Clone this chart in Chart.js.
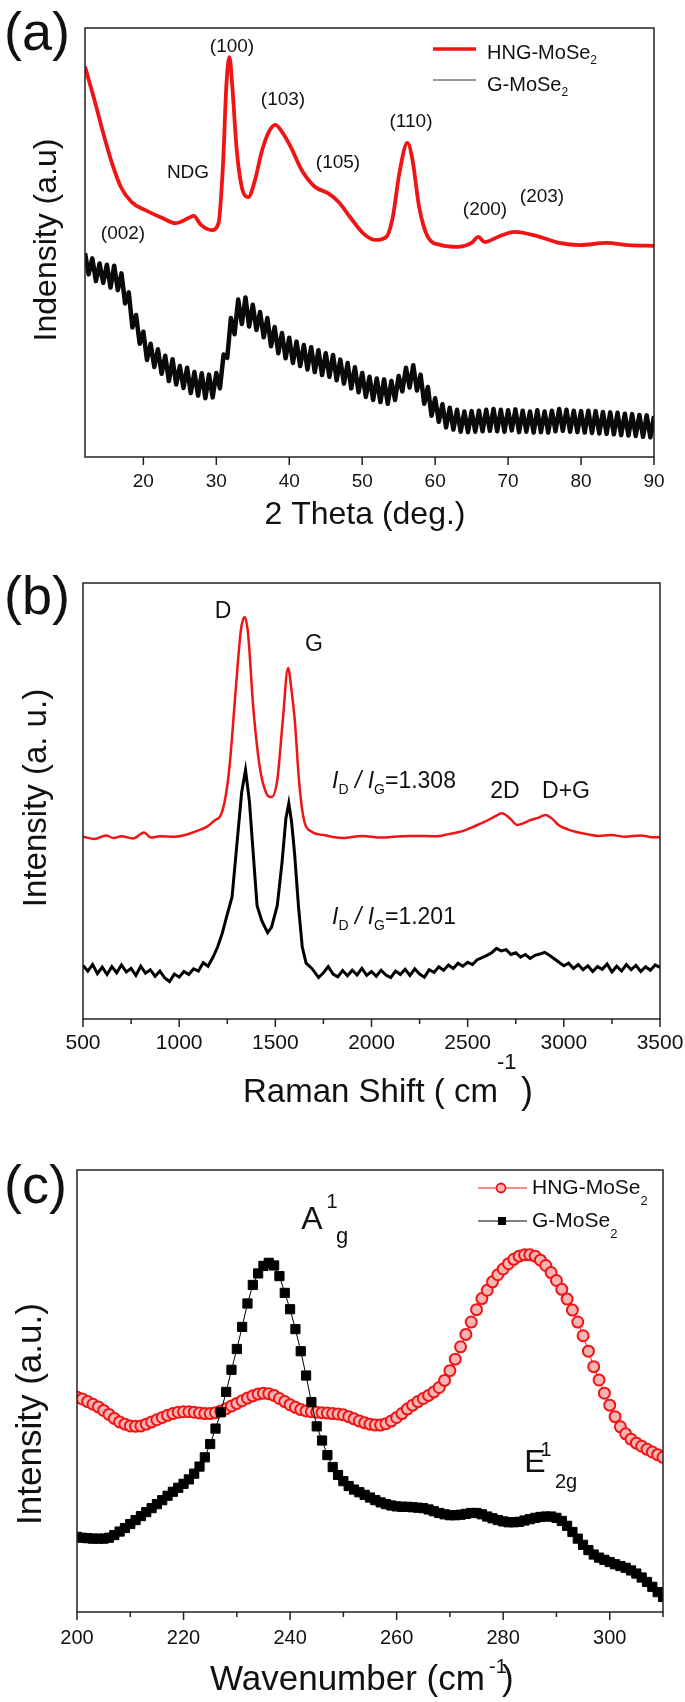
<!DOCTYPE html>
<html>
<head>
<meta charset="utf-8">
<script src="https://cdn.jsdelivr.net/npm/chart.js@4.4.0/dist/chart.umd.min.js"></script>
<style>
  body { margin: 0; background: #fff; }
  #wrap { position: relative; width: 685px; height: 1702px; }
  canvas { position: absolute; left: 0; }
</style>
</head>
<body>
<div id="wrap">
  <canvas id="chartA" width="685" height="560" style="top:0px"></canvas>
  <canvas id="chartB" width="685" height="570" style="top:560px"></canvas>
  <canvas id="chartC" width="685" height="572" style="top:1130px"></canvas>
</div>
<script>
const FONT = "'Liberation Sans', Arial, sans-serif";
const RED = "#f01414";
const INK = "#111";
const AXIS = "#222";

// (a) XRD, 2 theta
const xrdTicks = [20, 30, 40, 50, 60, 70, 80, 90];
const xrdHngX = [12, 13.3, 14.5, 15.7, 16.9, 18.4, 20.2, 22.6, 24.4, 26.2, 26.9, 27.9, 29.4, 30.3, 30.9, 31.4, 31.8, 32.2, 32.8, 33.6,
  34.4, 35.2, 36.3, 37.2, 38.1, 39.0, 40.2, 41.7, 43.5, 45.3, 46.8, 48.3, 50.1, 51.8, 53.3, 54.2, 55.1, 56.2, 56.9, 57.8,
  59.0, 60.8, 63.2, 65.0, 65.9, 66.8, 68.6, 70.9, 74.0, 77.0, 79.9, 83.5, 86.5, 90];
const xrdHngY = [91, 83.2, 75.5, 68.5, 63, 59.4, 57.6, 55.7, 54.5, 55.7, 56.2, 54.1, 52.9, 54.5, 67.6, 87.2, 93.2, 86.2, 71.6, 62.2,
  60.6, 63.9, 71.6, 75.8, 77.4, 75.8, 72.3, 66.9, 63, 61.5, 59.4, 56, 52.2, 50.6, 51.3, 56, 66.2, 73.2, 69.2, 58.3,
  51.3, 49.4, 49, 49.9, 51.3, 50.1, 51.3, 52.5, 51.5, 49.9, 49.4, 49.9, 49.4, 49.2];
// G-MoSe2 noisy trace, read every 0.5 deg from 12 to 90
const xrdGStart = 12, xrdGStep = 0.5;
const xrdGY = [
  47.5, 42.6, 46.3, 41.0, 45.1, 40.6, 44.8, 39.5, 44.6, 38.9,
  42.8, 35.8, 38.4, 30.2, 33.1, 26.4, 29.2, 22.6, 26.4, 21.0,
  25.1, 19.4, 23.6, 17.7, 22.8, 16.9, 21.2, 16.1, 20.8, 14.9,
  19.8, 14.3, 19.5, 13.7, 19.2, 13.9, 19.6, 16.0, 23.9, 23.1,
  32.4, 28.6, 36.7, 31.0, 37.2, 30.4, 35.5, 29.6, 33.8, 27.9,
  32.4, 25.8, 30.3, 24.2, 28.9, 23.0, 27.8, 21.9, 26.9, 21.2,
  26.1, 20.4, 25.6, 19.8, 24.9, 19.1, 24.2, 18.7, 23.8, 17.9,
  22.7, 17.1, 21.9, 16.0, 20.9, 15.1, 19.6, 14.0, 18.7, 13.3,
  18.3, 12.8, 18.1, 12.4, 17.7, 13.3, 18.9, 15.3, 20.8, 16.2,
  21.4, 15.5, 19.2, 12.4, 16.3, 9.6, 13.7, 8.2, 12.3, 6.9,
  11.5, 6.4, 11.0, 5.9, 10.6, 5.8, 10.7, 5.9, 10.8, 6.0,
  11.0, 6.1, 11.2, 6.0, 11.0, 5.9, 10.9, 6.2, 11.1, 5.8,
  10.8, 5.9, 10.6, 5.7, 10.9, 5.8, 10.6, 5.7, 10.8, 6.0,
  11.2, 6.1, 11.0, 5.9, 10.8, 5.8, 10.7, 5.7, 10.8, 5.6,
  10.7, 5.5, 10.5, 5.4, 10.4, 5.3, 10.3, 5.1, 10.1, 5.0,
  10.0, 4.9, 9.8, 4.7, 9.7, 4.6, 9.5];

// (b) Raman shift
const ramanTicks = [500, 1000, 1500, 2000, 2500, 3000, 3500];
const ramanMinor = [750, 1250, 1750, 2250, 2750, 3250];
const ramanHngX = [500, 525, 550, 575, 600, 625, 650, 675, 700, 725, 750, 775, 800, 825, 850, 875, 900, 925, 950, 975,
  1000, 1025, 1050, 1075, 1100, 1125, 1150, 1175, 1200, 1225, 1250, 1275, 1300, 1325,
  1345, 1365, 1385, 1405, 1430, 1460, 1480, 1510, 1535, 1555, 1570, 1585, 1600, 1620, 1640, 1660, 1690, 1725,
  1750, 1775, 1800, 1825, 1850, 1875, 1900, 1925, 1950, 1975, 2000, 2025, 2050, 2075, 2100, 2125, 2150, 2175,
  2200, 2225, 2250, 2275, 2300, 2325, 2350, 2375, 2400, 2425, 2450, 2475, 2500, 2525, 2550, 2575, 2600, 2625,
  2650, 2675, 2700, 2725, 2750, 2775, 2800, 2825, 2850, 2875, 2900, 2925, 2950, 2975, 3000, 3025, 3050, 3075,
  3100, 3125, 3150, 3175, 3200, 3225, 3250, 3275, 3300, 3325, 3350, 3375, 3400, 3425, 3450, 3475, 3500];
const ramanHngY = [12.3, 11.0, 12.5, 10.4, 11.9, 10.2, 12.0, 10.6, 12.4, 10.8, 11.6, 10.0, 12.1, 10.5, 11.3, 9.8, 11.0, 9.4, 8.6, 10.3,
  9.6, 10.9, 10.2, 11.5, 11.0, 12.9, 12.1, 14.1, 16.5, 19.8, 24, 28, 40, 52,
  57.1, 50, 38, 26, 22.5, 19.8, 21, 26, 36, 46, 49.5, 45, 38, 26, 16.5, 12.8, 11.6, 9.5,
  10.6, 12.0, 10.3, 9.7, 11.1, 9.9, 11.2, 10.1, 11.6, 10.0, 10.9, 9.8, 11.2, 10.1, 9.5, 11.0, 10.2, 11.4,
  10.0, 11.5, 10.3, 9.6, 11.3, 10.7, 12.0, 11.2, 12.4, 11.6, 12.8, 12.1, 13.0, 12.5, 13.6, 14.1, 14.6, 15.2,
  16.2, 15.6, 15.9, 14.8, 15.2, 14.2, 14.8, 13.9, 14.6, 14.9, 15.3, 14.6, 13.8, 13.0, 12.2, 12.8, 11.6, 12.5,
  11.3, 12.2, 10.9, 12.0, 11.4, 12.6, 10.8, 12.1, 11.0, 12.5, 11.3, 12.3, 10.9, 12.0, 11.2, 12.4, 11.8];
const ramanGX = [500, 560, 620, 659, 700, 760, 818, 852, 900, 977, 1040, 1090, 1140, 1180, 1226, 1260, 1294, 1321, 1340, 1358,
  1385, 1419, 1453, 1480, 1510, 1539, 1566, 1584, 1601, 1623, 1646, 1691, 1750, 1793, 1850, 1950, 2050, 2110, 2200, 2338,
  2400, 2473, 2530, 2587, 2640, 2678, 2720, 2757, 2790, 2826, 2870, 2904, 2940, 2972, 3020, 3065, 3120, 3180, 3246, 3320,
  3400, 3460, 3500];
const ramanGY = [41.8, 41.3, 42.1, 41.5, 41.9, 41.4, 42.8, 41.6, 41.9, 41.8, 42.3, 43.1, 44.0, 45.4, 47.9, 57.1, 75.5, 89.2, 92.2, 88.5,
  71.6, 57.8, 51.8, 50.9, 54.8, 68.6, 80.5, 75.5, 68.6, 54.8, 46.3, 42.9, 42.2, 41.8, 41.5, 42.0, 41.6, 41.8, 42.0, 41.9,
  42.4, 43.1, 44.1, 45.2, 46.4, 47.2, 46.0, 44.5, 44.9, 45.6, 46.2, 46.8, 45.9, 44.5, 43.5, 42.9, 42.4, 42.0, 42.2, 41.8,
  42.1, 41.7, 41.7];

// (c) low-wavenumber Raman, one reading per cm-1 from 200 to 310
const wnStart = 200, wnStep = 1;
const wnTicks = [200, 220, 240, 260, 280, 300];
const wnMinor = [210, 230, 250, 270, 290, 310];
const wnHngY = [48.6, 48.2, 47.6, 47.0, 46.4, 45.6, 44.7, 43.8, 43.0, 42.5,
  42.1, 42.0, 42.1, 42.5, 43.0, 43.5, 44.0, 44.5, 44.9, 45.2,
  45.3, 45.3, 45.2, 45.0, 44.9, 44.9, 45.1, 45.5, 46.0, 46.6,
  47.2, 47.8, 48.4, 48.9, 49.3, 49.5, 49.4, 49.0, 48.3, 47.6,
  46.9, 46.3, 45.8, 45.5, 45.3, 45.2, 45.1, 45.0, 44.9, 44.8,
  44.6, 44.2, 43.7, 43.2, 42.8, 42.5, 42.3, 42.3, 42.6, 43.2,
  44.0, 44.9, 45.9, 46.8, 47.6, 48.3, 49.0, 49.8, 50.8, 52.4,
  54.6, 57.2, 60.0, 62.8, 65.6, 68.4, 70.9, 72.8, 74.7, 76.3,
  77.6, 78.8, 79.8, 80.5, 80.8, 80.8, 80.5, 79.6, 78.4, 76.8,
  75.0, 73.0, 70.8, 68.3, 65.6, 62.5, 59.0, 55.5, 52.5, 49.5,
  46.8, 44.2, 41.9, 40.3, 39.1, 38.2, 37.5, 36.8, 36.2, 35.6, 35.0];
const wnGY = [17.0, 16.8, 16.7, 16.6, 16.6, 16.6, 16.8, 17.4, 18.2, 19.0,
  19.9, 20.8, 21.7, 22.6, 23.5, 24.4, 25.3, 26.3, 27.2, 28.1,
  29.0, 30.0, 31.3, 32.9, 35.0, 38.0, 41.5, 45.2, 49.8, 54.8,
  59.5, 64.5, 69.8, 74.0, 76.6, 78.3, 79.0, 78.4, 76.0, 72.2,
  68.5, 64.0, 59.0, 53.5, 47.5, 42.0, 38.8, 35.5, 32.8, 31.0,
  29.6, 28.5, 27.7, 27.1, 26.5, 25.9, 25.3, 24.8, 24.4, 24.1,
  23.9, 23.8, 23.8, 23.7, 23.6, 23.5, 23.2, 22.8, 22.4, 22.1,
  21.9, 21.9, 22.0, 22.2, 22.4, 22.4, 22.1, 21.6, 21.2, 20.8,
  20.5, 20.3, 20.3, 20.4, 20.7, 21.0, 21.3, 21.5, 21.6, 21.6,
  21.3, 20.6, 19.5, 18.1, 16.6, 15.2, 14.0, 13.0, 12.3, 11.8,
  11.3, 10.8, 10.4, 10.0, 9.4, 8.7, 7.8, 6.8, 5.7, 4.5, 3.4];

function pairs(xs, ys) {
  return ys.map((y, i) => ({ x: xs[i], y: y }));
}
function gridPairs(start, step, ys) {
  return ys.map((y, i) => ({ x: start + i * step, y: y }));
}

// --- drawing helpers ---
function txt(ctx, s, x, y, size, align, italic) {
  ctx.save();
  ctx.font = (italic ? "italic " : "") + size + "px " + FONT;
  ctx.fillStyle = INK;
  ctx.textAlign = align || "center";
  ctx.textBaseline = "middle";
  ctx.fillText(s, x, y);
  ctx.restore();
}
// parts: [text, size, dy, italic] drawn left to right
function runs(ctx, x, y, parts) {
  ctx.save();
  ctx.fillStyle = INK;
  ctx.textAlign = "left";
  ctx.textBaseline = "middle";
  parts.forEach(p => {
    ctx.font = (p[3] ? "italic " : "") + p[1] + "px " + FONT;
    ctx.fillText(p[0], x, y + (p[2] || 0));
    x += ctx.measureText(p[0]).width;
  });
  ctx.restore();
}
function yTitle(ctx, s, x, y, size) {
  ctx.save();
  ctx.translate(x, y);
  ctx.rotate(-Math.PI / 2);
  ctx.font = size + "px " + FONT;
  ctx.fillStyle = INK;
  ctx.textAlign = "center";
  ctx.textBaseline = "middle";
  ctx.fillText(s, 0, 0);
  ctx.restore();
}
function seg(ctx, x1, y1, x2, y2, color, w) {
  ctx.save();
  ctx.strokeStyle = color;
  ctx.lineWidth = w;
  ctx.beginPath();
  ctx.moveTo(x1, y1);
  ctx.lineTo(x2, y2);
  ctx.stroke();
  ctx.restore();
}
function frame(chart) {
  const a = chart.chartArea, ctx = chart.ctx;
  ctx.save();
  ctx.strokeStyle = AXIS;
  ctx.lineWidth = 1.5;
  ctx.strokeRect(a.left, a.top, a.right - a.left, a.bottom - a.top);
  ctx.restore();
}
function xTicks(chart, major, minor, labelY, size) {
  const ctx = chart.ctx, sx = chart.scales.x, b = chart.chartArea.bottom;
  major.forEach(v => {
    const p = sx.getPixelForValue(v);
    seg(ctx, p, b, p, b + 8, AXIS, 1.5);
    txt(ctx, String(v), p, labelY, size);
  });
  minor.forEach(v => {
    const p = sx.getPixelForValue(v);
    seg(ctx, p, b, p, b + 5, AXIS, 1.5);
  });
}

function makeChart(id, pad, xmin, xmax, datasets, draw) {
  return new Chart(document.getElementById(id), {
    type: "line",
    data: { datasets: datasets },
    options: {
      responsive: false,
      animation: false,
      devicePixelRatio: 1,
      events: [],
      layout: { padding: pad },
      plugins: { legend: { display: false }, tooltip: { enabled: false } },
      scales: {
        x: { type: "linear", min: xmin, max: xmax, display: false },
        y: { min: 0, max: 100, display: false }
      }
    },
    plugins: [{ id: "deco", afterDraw: draw }]
  });
}

// ===== (a) =====
makeChart("chartA", { left: 85, top: 28, right: 31, bottom: 103 }, 12, 90, [
  {
    label: "HNG-MoSe2", data: pairs(xrdHngX, xrdHngY),
    borderColor: RED, borderWidth: 3.8, pointRadius: 0, cubicInterpolationMode: "monotone"
  },
  {
    label: "G-MoSe2", data: gridPairs(xrdGStart, xrdGStep, xrdGY),
    borderColor: "#0a0a0a", borderWidth: 4.5, borderJoinStyle: "round", pointRadius: 0, tension: 0
  }
], chart => {
  const ctx = chart.ctx;
  frame(chart);
  xTicks(chart, xrdTicks, [], 482, 19);
  txt(ctx, "(a)", 4, 35, 54, "left");
  yTitle(ctx, "Indensity (a.u)", 47, 240, 32);
  txt(ctx, "2 Theta (deg.)", 365, 515, 32);
  seg(ctx, 433, 49, 476, 49, RED, 3.5);
  runs(ctx, 487, 53, [["HNG-MoSe", 20], ["2", 12, 8]]);
  seg(ctx, 433, 80, 476, 80, "#333", 1);
  runs(ctx, 487, 85, [["G-MoSe", 20], ["2", 12, 8]]);
  txt(ctx, "(100)", 232, 47, 19);
  txt(ctx, "(103)", 283, 100, 19);
  txt(ctx, "(110)", 411, 122, 19);
  txt(ctx, "(105)", 338, 163, 19);
  txt(ctx, "NDG", 188, 173, 19);
  txt(ctx, "(200)", 485, 210, 19);
  txt(ctx, "(203)", 542, 197, 19);
  txt(ctx, "(002)", 123, 234, 19);
});

// ===== (b) =====
makeChart("chartB", { left: 83, top: 23, right: 25, bottom: 111 }, 500, 3500, [
  {
    label: "HNG-MoSe2", data: pairs(ramanHngX, ramanHngY),
    borderColor: "#000", borderWidth: 3, pointRadius: 0, tension: 0
  },
  {
    label: "G-MoSe2", data: pairs(ramanGX, ramanGY),
    borderColor: RED, borderWidth: 2.5, pointRadius: 0, cubicInterpolationMode: "monotone"
  }
], chart => {
  const ctx = chart.ctx;
  frame(chart);
  xTicks(chart, ramanTicks, ramanMinor, 483, 21);
  txt(ctx, "(b)", 4, 39, 54, "left");
  yTitle(ctx, "Intensity (a. u.)", 37, 238, 33);
  txt(ctx, "Raman Shift ( cm", 243, 533, 33, "left");
  txt(ctx, "-1", 497, 503, 22, "left");
  txt(ctx, ")", 521, 533, 36, "left");
  seg(ctx, 435, 605, 482, 605, "#000", 3);
  runs(ctx, 487, 608, [["HNG-MoSe", 21], ["2", 13, 11]]);
  seg(ctx, 435, 640, 482, 640, RED, 2.5);
  runs(ctx, 487, 643, [["G-MoSe", 21], ["2", 13, 11]]);
  txt(ctx, "D", 223, 52, 23);
  txt(ctx, "G", 314, 85, 23);
  txt(ctx, "2D", 505, 232, 23);
  txt(ctx, "D+G", 566, 232, 23);
  runs(ctx, 332, 222, [["I", 23, 0, true], ["D", 14, 8], [" / ", 23, 0, true], ["I", 23, 0, true], ["G", 14, 8], ["=1.308", 23]]);
  runs(ctx, 332, 358, [["I", 23, 0, true], ["D", 14, 8], [" / ", 23, 0, true], ["I", 23, 0, true], ["G", 14, 8], ["=1.201", 23]]);
});

// ===== (c) =====
makeChart("chartC", { left: 77, top: 40, right: 22, bottom: 90 }, 200, 310, [
  {
    label: "HNG-MoSe2", data: gridPairs(wnStart, wnStep, wnHngY), order: 1,
    borderColor: RED, borderWidth: 1, pointStyle: "circle", pointRadius: 5.5,
    pointBackgroundColor: "#f9b4b4", pointBorderColor: RED, pointBorderWidth: 2, tension: 0
  },
  {
    label: "G-MoSe2", data: gridPairs(wnStart, wnStep, wnGY), order: 0,
    borderColor: "#000", borderWidth: 1, pointStyle: "rect", pointRadius: 6.5,
    pointBackgroundColor: "#000", pointBorderColor: "#000", pointBorderWidth: 1, tension: 0
  }
], chart => {
  const ctx = chart.ctx;
  frame(chart);
  xTicks(chart, wnTicks, wnMinor, 508, 20);
  txt(ctx, "(c)", 4, 58, 54, "left");
  yTitle(ctx, "Intensity (a.u.)", 31, 284, 35);
  txt(ctx, "Wavenumber (cm", 210, 550, 35, "left");
  txt(ctx, "-1", 489, 537, 20, "left");
  txt(ctx, ")", 502, 550, 35, "left");
  // legend
  seg(ctx, 478, 58, 527, 58, RED, 1);
  ctx.save();
  ctx.beginPath();
  ctx.arc(501, 58, 4.5, 0, Math.PI * 2);
  ctx.fillStyle = "#f9b4b4";
  ctx.fill();
  ctx.strokeStyle = RED;
  ctx.lineWidth = 1.8;
  ctx.stroke();
  ctx.restore();
  runs(ctx, 532, 58, [["HNG-MoSe", 21], ["2", 13, 13]]);
  seg(ctx, 478, 91, 527, 91, "#000", 1.2);
  ctx.fillStyle = "#000";
  ctx.fillRect(498, 87, 8, 8);
  runs(ctx, 532, 91, [["G-MoSe", 21], ["2", 13, 13]]);
  // mode labels
  txt(ctx, "A", 312, 90, 32);
  txt(ctx, "1", 332, 72, 20);
  txt(ctx, "g", 336, 107, 22, "left");
  txt(ctx, "E", 535, 333, 32);
  txt(ctx, "1", 546, 320, 20);
  txt(ctx, "2g", 555, 352, 20, "left");
});
</script>
</body>
</html>
